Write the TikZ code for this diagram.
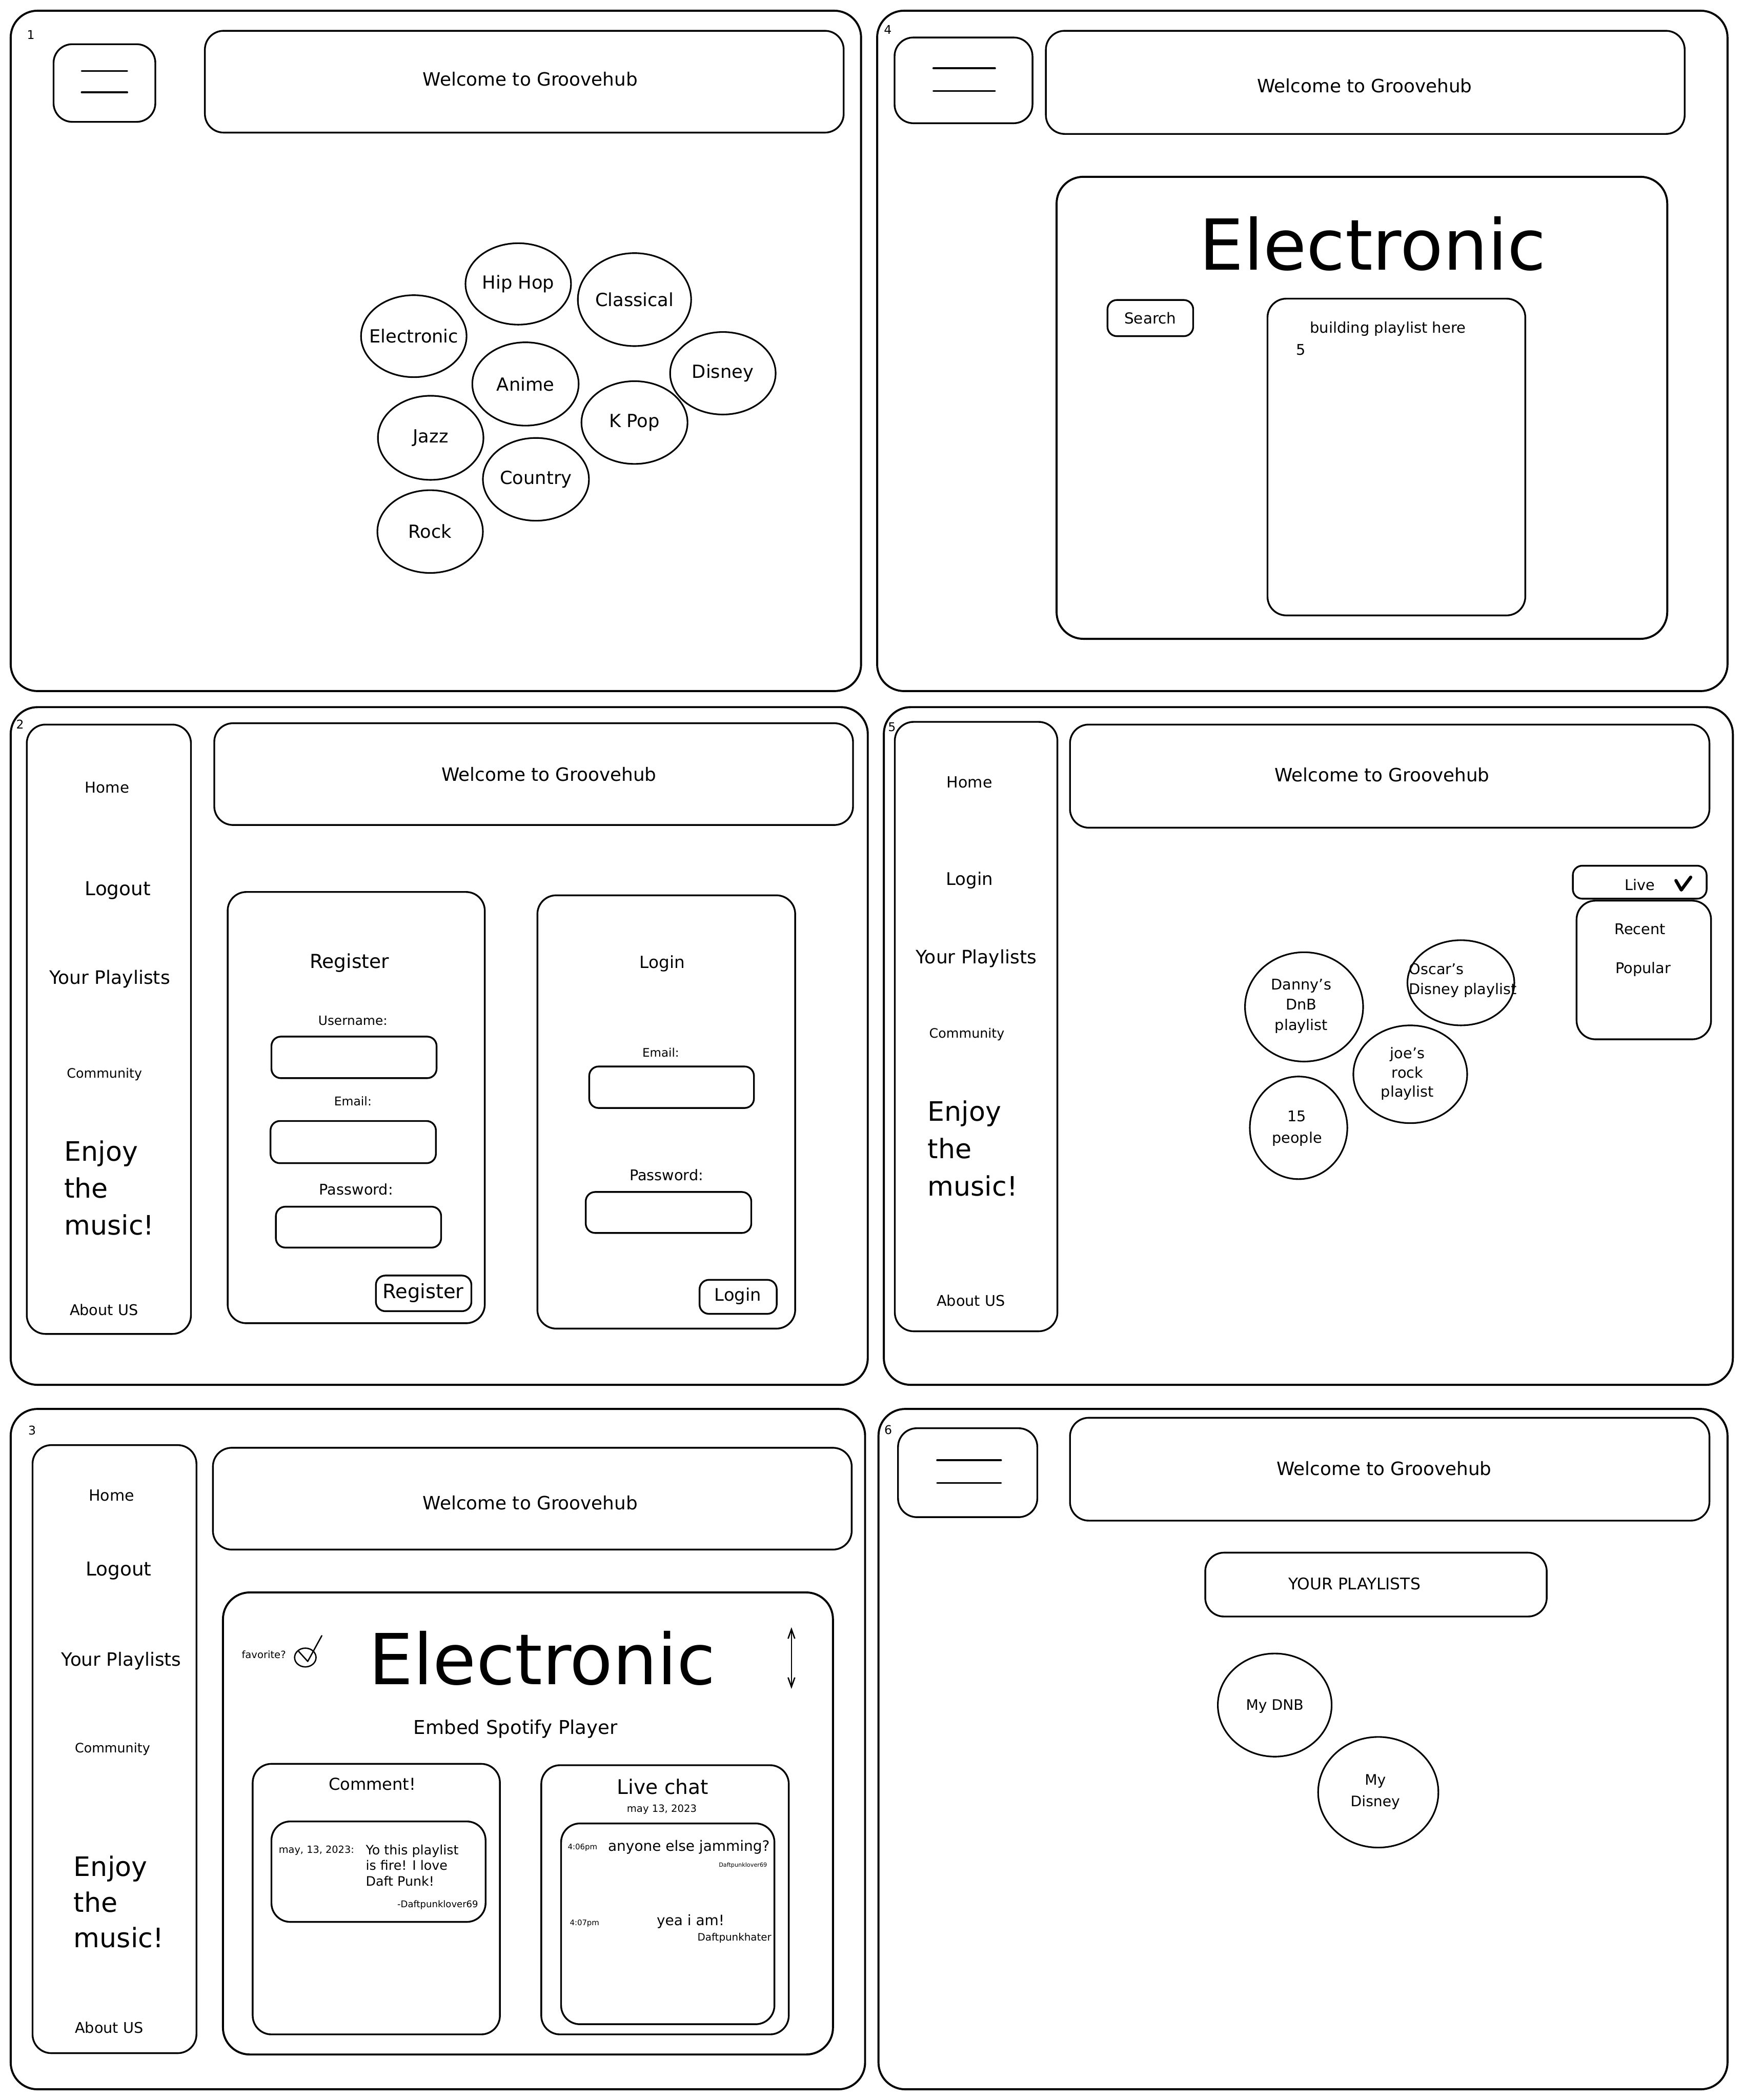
\documentclass[tikz,border=0pt]{standalone}
\usepackage{fontspec}
\setmainfont{DejaVu Sans}
\usetikzlibrary{arrows.meta}

\begin{document}
\begin{tikzpicture}[x=1pt, y=-1pt, line cap=round, line join=round,
    fs/.style 2 args={font=\fontsize{#1}{#2}\selectfont},
    panel/.style={draw, line width=1.5pt, rounded corners=20pt},
    box/.style={draw, line width=1.3pt, rounded corners=14pt},
    field/.style={draw, line width=1.3pt, rounded corners=7pt},
    bubble/.style={draw, line width=1.2pt},
    bar/.style={draw, line width=1.4pt},
    num/.style={fs={9}{11}},
    title/.style={fs={13.7}{16}},
    flush/.style={inner sep=0pt}]

    \useasboundingbox (0,0) rectangle (1302,1568);

    % --- 1. Genre bubbles ---
    \draw[panel] (8,8) rectangle (643,516);
    \node[num] (num1) at (23,26) {1};
    \draw[box] (40,33) rectangle (116,91);
    \draw[bar] (61,53) -- (95,53);
    \draw[bar] (61,69) -- (95,69);
    \draw[box] (153,23) rectangle (630,99);
    \node[title] (welcome1) at (396,59) {Welcome to Groovehub};
    \foreach \nm/\cx/\cy/\rx/\ry/\lbl in {elec/309/251/39.4/30.6/Electronic, hiphop/387/212/39.4/30.4/Hip Hop,
        classical/473.8/223.7/42.3/34.7/Classical, anime/392.4/286.7/39.7/31.1/Anime,
        disney/539.8/278.7/39.4/30.8/Disney, kpop/473.8/315.5/39.6/30.9/K Pop,
        jazz/321.6/326.9/39.4/31.4/Jazz, country/400.2/357.9/39.6/30.9/Country,
        rock/321.2/396.9/39.4/30.9/Rock}
    {
        \draw[bubble] (\cx,\cy) ellipse [x radius=\rx pt, y radius=\ry pt];
        \node[fs={13.5}{16}] (\nm) at (\cx,\cy) {\lbl};
    }

    % --- 2. Genre page, playlist builder ---
    \draw[panel] (655,8) rectangle (1290,516);
    \node[num] (num4) at (663,22) {4};
    \draw[box] (668,28) rectangle (771,92);
    \draw[bar] (697,51) -- (743,51);
    \draw[bar] (697,68) -- (743,68);
    \draw[box] (781,23) rectangle (1258,100);
    \node[title] (welcome4) at (1019,64) {Welcome to Groovehub};
    \draw[panel] (789,132) rectangle (1245,477);
    \node[fs={52.5}{60}] (genre4) at (1025,182) {Electronic};
    \draw[field] (827,224) rectangle (891,251);
    \node[fs={11.3}{13}] (search) at (859,237.5) {Search};
    \draw[box] (946.5,223) rectangle (1139,459.5);
    \node[fs={11.1}{13}, flush, anchor=west] (building) at (978,245.5) {building playlist here};
    \node[fs={11}{13}] (five) at (971.4,261) {5};

    % --- 3. Register / login ---
    \draw[panel] (8,528) rectangle (648,1034);
    \node[num] (num2) at (15,541) {2};
    \draw[box] (20,541) rectangle (142.6,996);
    \node[fs={11.2}{13}] (home2) at (80,588) {Home};
    \node[fs={14.3}{16}] (logout2) at (88,665) {Logout};
    \node[fs={13.8}{16}] (playlists2) at (82,731) {Your Playlists};
    \node[fs={9.7}{12}] (community2) at (78,802) {Community};
    \node[fs={20}{27.7}, flush, align=left, anchor=west] (enjoy2) at (47.8,887) {Enjoy\\the\\music!};
    \node[fs={11}{13}] (about2) at (77.6,978) {About US};
    \draw[box] (160,540) rectangle (637,616);
    \node[title] (welcome2) at (410,578) {Welcome to Groovehub};
    % register card
    \draw[box] (170,666) rectangle (362,988);
    \node[fs={14.4}{17}] (regtitle) at (261,719) {Register};
    \node[fs={9.5}{11}] (userlbl) at (263.5,762) {Username:};
    \draw[field] (202.7,774) rectangle (326,805);
    \node[fs={9}{11}] (maillbl) at (263.5,822) {Email:};
    \draw[field] (202,837) rectangle (325.5,868.5);
    \node[fs={11}{13}] (passlbl) at (266,888) {Password:};
    \draw[field] (206,901) rectangle (329.4,931.5);
    \draw[field] (280.7,952.4) rectangle (352,979);
    \node[fs={14.7}{17}] (regbtn) at (316,965.5) {Register};
    % login card
    \draw[box] (401.3,668.5) rectangle (593.8,992);
    \node[fs={12.5}{15}] (logtitle) at (494.5,719.3) {Login};
    \node[fs={8.8}{11}] (logmail) at (493.4,785.8) {Email:};
    \draw[field] (440,796.3) rectangle (563,827.3);
    \node[fs={11}{13}] (logpass) at (497.7,877.4) {Password:};
    \draw[field] (437.4,890) rectangle (561,920.6);
    \draw[field] (522.4,955.6) rectangle (580,981);
    \node[fs={12.9}{15}] (logbtn) at (551,968) {Login};

    % --- 4. Community playlists ---
    \draw[panel] (660,528) rectangle (1294,1034);
    \node[num] (num5) at (666,543) {5};
    \draw[box] (668.2,539) rectangle (789.6,994);
    \node[fs={11.5}{13}] (home5) at (724,584) {Home};
    \node[fs={13}{15}] (login5) at (724,657.5) {Login};
    \node[fs={13.8}{16}] (playlists5) at (729,715.5) {Your Playlists};
    \node[fs={9.7}{12}] (community5) at (722,772.5) {Community};
    \node[fs={20}{27.8}, flush, align=left, anchor=west] (enjoy5) at (692.5,857.5) {Enjoy\\the\\music!};
    \node[fs={11}{13}] (about5) at (725,971) {About US};
    \draw[box] (799,541) rectangle (1276.5,618);
    \node[title] (welcome5) at (1032,578.5) {Welcome to Groovehub};
    % sort menu
    \draw[field] (1174.5,646.4) rectangle (1274.4,671);
    \node[fs={11}{13}] (live) at (1224.7,660.5) {Live};
    \draw[line width=2.4pt] (1251.5,657.5) -- (1255.5,664.5) -- (1262.5,655);
    \draw[box] (1177.3,672.5) rectangle (1277.7,776);
    \node[fs={11}{13}] (recent) at (1224.7,693.6) {Recent};
    \node[fs={11}{13}] (popular) at (1227,723.6) {Popular};
    % playlist bubbles
    \draw[bubble] (973.8,751.8) ellipse [x radius=44.1pt, y radius=40.8pt];
    \node[fs={11}{15}, align=center] (danny) at (971.7,751.2) {Danny's\\DnB\\playlist};
    \draw[bubble] (1090.9,733.8) ellipse [x radius=39.9pt, y radius=31.8pt];
    \node[fs={11}{15}, flush, align=left, anchor=west] (oscar) at (1052,732) {Oscar's\\Disney playlist};
    \draw[bubble] (1053.1,802.1) ellipse [x radius=42.5pt, y radius=36.5pt];
    \node[fs={11}{14.4}, align=center] (joe) at (1051,801.7) {joe's\\rock\\playlist};
    \draw[bubble] (969.7,842.1) ellipse [x radius=36.4pt, y radius=38.3pt];
    \node[fs={11}{16}, align=center] (people) at (968.5,842.6) {15\\people};

    % --- 5. Playlist page ---
    \draw[panel] (8,1052) rectangle (646,1560);
    \node[num] (num3) at (24,1068) {3};
    \draw[box] (24.3,1079) rectangle (146.7,1533);
    \node[fs={11.5}{13}] (home3) at (83.3,1116.6) {Home};
    \node[fs={14.3}{16}] (logout3) at (88.6,1173) {Logout};
    \node[fs={13.7}{16}] (playlists3) at (90.6,1240) {Your Playlists};
    \node[fs={9.7}{12}] (community3) at (84,1306) {Community};
    \node[fs={20}{26.6}, flush, align=left, anchor=west] (enjoy3) at (54.9,1420.2) {Enjoy\\the\\music!};
    \node[fs={11}{13}] (about3) at (81.5,1514) {About US};
    \draw[box] (159,1081) rectangle (636,1157);
    \node[title] (welcome3) at (396,1122) {Welcome to Groovehub};
    \draw[panel] (166.5,1189) rectangle (622,1534);
    \node[fs={7.5}{9}] (favorite) at (197,1235.5) {favorite?};
    \draw[line width=1pt] (228,1237.6) ellipse [x radius=8pt, y radius=7pt];
    \draw[line width=1pt] (223,1233) -- (229.8,1240.5) -- (240.3,1221.3);
    \node[fs={52.5}{60}] (genre3) at (405,1238) {Electronic};
    \coordinate (arrtop) at (591,1215);
    \coordinate (arrbot) at (591,1261);
    \draw[line width=1pt, {Straight Barb[length=7pt,width=5pt]}-{Straight Barb[length=7pt,width=5pt]}] (arrtop) -- (arrbot);
    \node[fs={14.2}{17}] (spotify) at (385,1291) {Embed Spotify Player};
    % comments
    \draw[box] (188.7,1317) rectangle (373.3,1519);
    \node[fs={12.3}{15}] (comment) at (278,1332) {Comment!};
    \draw[box] (202.7,1360) rectangle (362.6,1435);
    \node[fs={7.4}{9}, flush, anchor=west] (cdate) at (208,1381.5) {may, 13, 2023:};
    \node[fs={9.7}{11.8}, flush, align=left, anchor=west] (ctext) at (273,1392.8) {Yo this playlist\\is fire! I love\\Daft Punk!};
    \node[fs={6.9}{9}, flush, anchor=east] (cuser) at (357.2,1422.2) {-Daftpunklover69};
    % live chat
    \draw[box] (404.2,1318) rectangle (589,1519);
    \node[fs={15}{18}] (livechat) at (495,1334) {Live chat};
    \node[fs={7.5}{9}] (chatdate) at (494.2,1351.2) {may 13, 2023};
    \draw[box] (419,1361.5) rectangle (578.3,1511.4);
    \node[fs={5.7}{7}] (time1) at (435,1379.6) {4:06pm};
    \node[fs={10.7}{13}] (msg1) at (514.4,1379) {anyone else jamming?};
    \node[fs={4.3}{5}, flush, anchor=east] (user1) at (573,1392.8) {Daftpunklover69};
    \node[fs={5.7}{7}] (time2) at (436.5,1436) {4:07pm};
    \node[fs={10.7}{13}] (msg2) at (515.7,1434.7) {yea i am!};
    \node[fs={7.6}{9}, flush, anchor=east] (user2) at (576.2,1447.2) {Daftpunkhater};

    % --- 6. Your playlists ---
    \draw[panel] (656,1052) rectangle (1290,1560);
    \node[num] (num6) at (663.3,1067.5) {6};
    \draw[box] (670.6,1066.4) rectangle (774.6,1132.8);
    \draw[bar] (699.8,1090.3) -- (747.5,1090.3);
    \draw[bar] (699.8,1107.3) -- (747.5,1107.3);
    \draw[box] (799,1058.6) rectangle (1276.5,1135.4);
    \node[title] (welcome6) at (1033.6,1096.3) {Welcome to Groovehub};
    \draw[box] (900,1159.3) rectangle (1155,1207);
    \node[fs={12}{14}] (yours) at (1011.4,1182.6) {YOUR PLAYLISTS};
    \draw[bubble] (951.9,1273.1) ellipse [x radius=42.5pt, y radius=38.5pt];
    \node[fs={10.8}{13}] (mydnb) at (951.9,1274) {My DNB};
    \draw[bubble] (1029.2,1338.2) ellipse [x radius=44.9pt, y radius=41.3pt];
    \node[fs={10.8}{16}, align=center] (mydisney) at (1027,1338) {My\\Disney};
\end{tikzpicture}
\end{document}
